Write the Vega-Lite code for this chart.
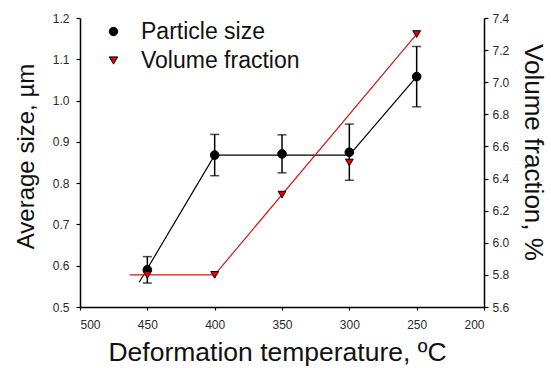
{
  "$schema": "https://vega.github.io/schema/vega-lite/v6.json",
  "width": 404,
  "height": 289,
  "autosize": {"type": "none"},
  "padding": {"left": 80, "top": 18, "right": 67, "bottom": 61},
  "background": "white",
  "config": {
    "view": {"stroke": null},
    "font": "Liberation Sans",
    "axis": {
      "grid": false,
      "domainColor": "black",
      "domainWidth": 1.5,
      "tickColor": "black",
      "tickWidth": 1.2,
      "labelColor": "#2a2a2a",
      "labelFont": "Liberation Sans",
      "labelFontSize": 12,
      "titleFont": "Liberation Sans",
      "titleFontWeight": "normal",
      "titleColor": "#111111"
    },
    "legend": {
      "orient": "none",
      "legendX": 22,
      "legendY": 2,
      "padding": 0,
      "labelFont": "Liberation Sans",
      "labelFontSize": 23,
      "labelColor": "#111111",
      "labelOffset": 16,
      "rowPadding": 5,
      "symbolStrokeColor": "black",
      "symbolStrokeWidth": 1,
      "symbolSize": 70
    }
  },
  "datasets": {
    "size": [
      {"temperature": 450, "size": 0.59, "err": 0.032, "series": "Particle size"},
      {"temperature": 400, "size": 0.868, "err": 0.05, "series": "Particle size"},
      {"temperature": 350, "size": 0.871, "err": 0.046, "series": "Particle size"},
      {"temperature": 300, "size": 0.875, "err": 0.068, "series": "Particle size"},
      {"temperature": 250, "size": 1.058, "err": 0.073, "series": "Particle size"}
    ],
    "sizeTrend": [
      {"temperature": 456, "size": 0.56},
      {"temperature": 400, "size": 0.868},
      {"temperature": 300, "size": 0.868},
      {"temperature": 250, "size": 1.058}
    ],
    "fraction": [
      {"temperature": 450, "fraction": 5.8, "series": "Volume fraction"},
      {"temperature": 400, "fraction": 5.8, "series": "Volume fraction"},
      {"temperature": 350, "fraction": 6.3, "series": "Volume fraction"},
      {"temperature": 300, "fraction": 6.5, "series": "Volume fraction"},
      {"temperature": 250, "fraction": 7.3, "series": "Volume fraction"}
    ],
    "fractionTrend": [
      {"temperature": 463, "fraction": 5.8},
      {"temperature": 400, "fraction": 5.8},
      {"temperature": 250, "fraction": 7.3}
    ]
  },
  "encoding": {
    "x": {
      "field": "temperature",
      "type": "quantitative",
      "scale": {"domain": [200, 500], "reverse": true, "nice": false, "zero": false},
      "axis": {
        "title": "Deformation temperature, ºC",
        "values": [500, 450, 400, 350, 300, 250, 200],
        "format": "d",
        "tickSize": 3,
        "labelPadding": 9,
        "titleFontSize": 26.5,
        "titleX": 197,
        "titleY": 53,
        "titleAlign": "center",
        "titleBaseline": "alphabetic"
      }
    }
  },
  "layer": [
    {
      "layer": [
        {
          "data": {"name": "sizeTrend"},
          "mark": {"type": "line", "color": "black", "strokeWidth": 1.2},
          "encoding": {"y": {"field": "size", "type": "quantitative"}}
        },
        {
          "data": {"name": "size"},
          "mark": {
            "type": "errorbar",
            "color": "black",
            "thickness": 1.5,
            "ticks": {"size": 9, "color": "black", "thickness": 1.5}
          },
          "encoding": {
            "y": {"field": "size", "type": "quantitative"},
            "yError": {"field": "err"}
          }
        },
        {
          "data": {"name": "size"},
          "mark": {"type": "point", "filled": true, "size": 75, "stroke": "black", "strokeWidth": 1, "opacity": 1},
          "encoding": {
            "y": {"field": "size", "type": "quantitative"},
            "color": {
              "field": "series",
              "type": "nominal",
              "scale": {"domain": ["Particle size", "Volume fraction"], "range": ["black", "#e00000"]},
              "legend": {"title": null}
            },
            "shape": {
              "field": "series",
              "type": "nominal",
              "scale": {"domain": ["Particle size", "Volume fraction"], "range": ["circle", "triangle-down"]},
              "legend": {"title": null}
            }
          }
        }
      ],
      "encoding": {
        "y": {
          "field": "size",
          "type": "quantitative",
          "scale": {"domain": [0.5, 1.2], "nice": false, "zero": false},
          "axis": {
            "orient": "left",
            "title": "Average size, µm",
            "values": [0.5, 0.6, 0.7, 0.8, 0.9, 1.0, 1.1, 1.2],
            "format": ".1f",
            "tickSize": 4,
            "labelPadding": 7,
            "titleFontSize": 24,
            "titleX": -47,
            "titleY": 138,
            "titleAngle": -90,
            "titleAlign": "center",
            "titleBaseline": "alphabetic"
          }
        }
      }
    },
    {
      "layer": [
        {
          "data": {"name": "fractionTrend"},
          "mark": {"type": "line", "color": "#d01818", "strokeWidth": 1.2},
          "encoding": {"y": {"field": "fraction", "type": "quantitative"}}
        },
        {
          "data": {"name": "fraction"},
          "mark": {"type": "point", "filled": true, "size": 60, "stroke": "black", "strokeWidth": 1, "opacity": 1},
          "encoding": {
            "y": {"field": "fraction", "type": "quantitative"},
            "color": {
              "field": "series",
              "type": "nominal",
              "scale": {"domain": ["Particle size", "Volume fraction"], "range": ["black", "#e00000"]},
              "legend": {"title": null}
            },
            "shape": {
              "field": "series",
              "type": "nominal",
              "scale": {"domain": ["Particle size", "Volume fraction"], "range": ["circle", "triangle-down"]},
              "legend": {"title": null}
            }
          }
        }
      ],
      "encoding": {
        "y": {
          "field": "fraction",
          "type": "quantitative",
          "scale": {"domain": [5.6, 7.4], "nice": false, "zero": false},
          "axis": {
            "orient": "right",
            "title": "Volume fraction, %",
            "values": [5.6, 5.8, 6.0, 6.2, 6.4, 6.6, 6.8, 7.0, 7.2, 7.4],
            "format": ".1f",
            "tickSize": 4,
            "labelPadding": 4,
            "titleFontSize": 26,
            "titleX": 40,
            "titleY": 134,
            "titleAngle": 90,
            "titleAlign": "center",
            "titleBaseline": "alphabetic"
          }
        }
      }
    }
  ],
  "resolve": {"scale": {"y": "independent"}}
}
